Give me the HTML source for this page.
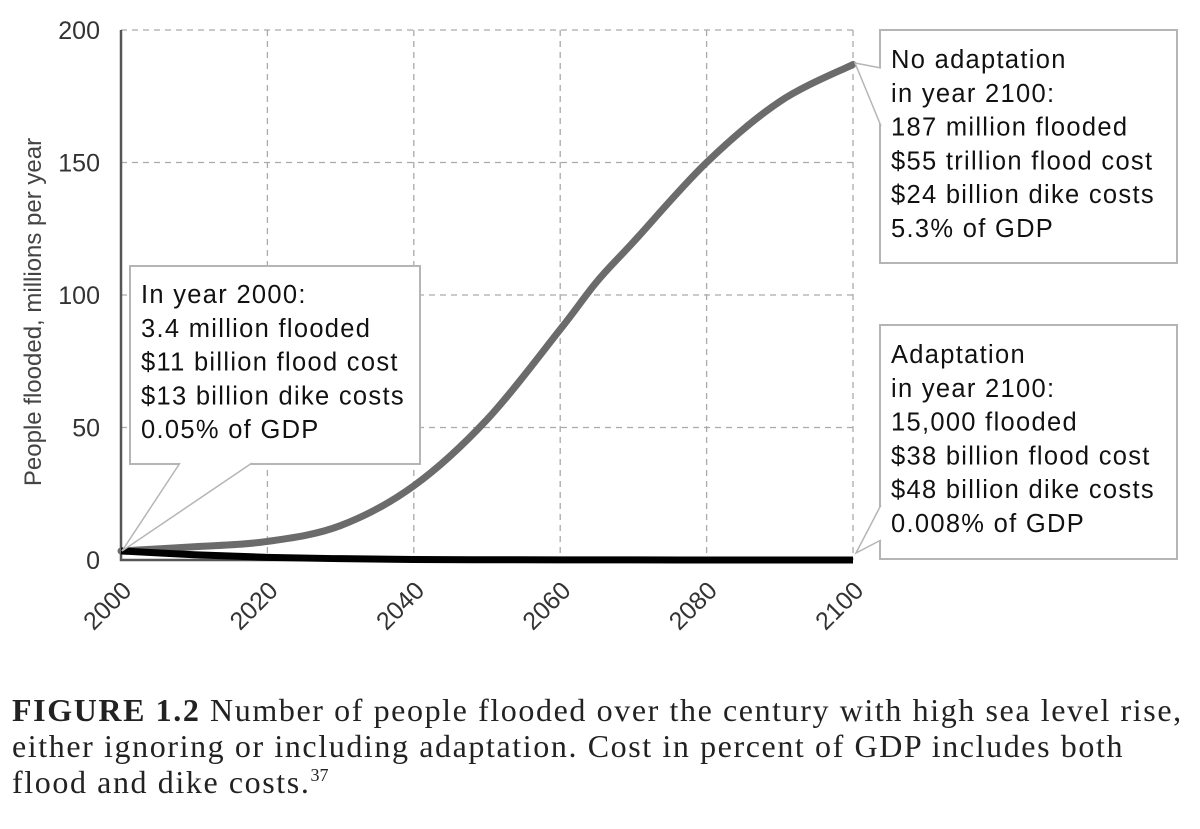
<!DOCTYPE html>
<html><head><meta charset="utf-8"><style>
body{margin:0;background:#fff;width:1200px;height:829px;overflow:hidden;font-family:"Liberation Sans",sans-serif}
.cap{position:absolute;left:12px;top:692px;width:1190px;font-family:"Liberation Serif",serif;font-size:32px;letter-spacing:1.6px;line-height:36px;color:#222;white-space:nowrap}
.cap sup{font-size:18px;line-height:0;vertical-align:0;position:relative;top:-12px;letter-spacing:0}
</style></head><body>
<svg id="chart" width="1200" height="680" style="position:absolute;left:0;top:0" font-family="Liberation Sans, sans-serif"></svg>
<div class="cap"><b>FIGURE 1.2</b> Number of people flooded over the century with high sea level rise,<br>either ignoring or including adaptation. Cost in percent of GDP includes both<br>flood and dike costs.<sup>37</sup></div>
<script>
const years=[2000,2010,2020,2030,2040,2050,2060,2065,2070,2080,2090,2100];
const noAdapt=[3.4,5,7,13,28,53,87,105,120,150,173,187];
const adapt=[3.4,2,1,0.5,0.2,0.1,0.05,0.04,0.03,0.02,0.015,0.015];
const xTicks=[2000,2020,2040,2060,2080,2100];
const yTicks=[0,50,100,150,200];
const NS="http://www.w3.org/2000/svg";
const svg=document.getElementById('chart');
const X0=121,X1=853,Y0=560,Y1=30;
const xs=v=>X0+(v-2000)/100*(X1-X0);
const ys=v=>Y0-v/200*(Y0-Y1);
function mk(t,a,p){const e=document.createElementNS(NS,t);for(const k in a)e.setAttribute(k,a[k]);(p||svg).appendChild(e);return e;}
yTicks.forEach(v=>{
 if(v>0){const g=mk('line',{x1:X0,x2:X1,y1:ys(v),y2:ys(v),stroke:'#aaa','stroke-dasharray':'6,5','stroke-width':1.3});
 
 }
 const t=mk('text',{x:100,y:ys(v)+9,'text-anchor':'end','font-size':25,fill:'#333'});t.textContent=v;
 
 
});
xTicks.forEach(v=>{
 if(v>2000){const g=mk('line',{x1:xs(v),x2:xs(v),y1:Y1,y2:Y0,stroke:'#aaa','stroke-dasharray':'6,5','stroke-width':1.3});
 
 }
 const t=mk('text',{x:0,y:0,'text-anchor':'end','font-size':25,fill:'#333',transform:`translate(${xs(v)+12},${Y0+32}) rotate(-45)`});t.textContent=v;
 
 
});
const ax=mk('path',{d:`M${X0},${Y1} V${Y0} H${X1}`,stroke:'#555','stroke-width':2.5,fill:'none'});


const yt=mk('text',{x:0,y:0,'text-anchor':'middle','font-size':24,fill:'#444',transform:'translate(41,312) rotate(-90)'});
yt.textContent='People flooded, millions per year';


function path(vals){const p=years.map((y,i)=>[xs(y),ys(vals[i])]);let d=`M${p[0][0]},${p[0][1]}`;
 for(let i=0;i<p.length-1;i++){const a=p[i-1]||p[i],b=p[i],c=p[i+1],e=p[i+2]||c;
 d+=` C${b[0]+(c[0]-a[0])/6},${b[1]+(c[1]-a[1])/6} ${c[0]-(e[0]-b[0])/6},${c[1]-(e[1]-b[1])/6} ${c[0]},${c[1]}`;}return d;}
const l1=mk('path',{d:path(noAdapt),stroke:'#6b6b6b','stroke-width':7,fill:'none','stroke-linecap':'round'});


const l2=mk('path',{d:path(adapt),stroke:'#000','stroke-width':7,fill:'none'});


function callout(name,x,y,w,h,tip,lines,ptr){
 const g=mk('g',{});
 mk('path',{d:`M${x},${y} H${x+w} V${y+h} H${x} Z`,fill:'#fff',stroke:'#b5b5b5','stroke-width':2},g);
 mk('path',{d:ptr,fill:'#fff',stroke:'#b5b5b5','stroke-width':1.5},g);
 lines.forEach((s,i)=>{const t=mk('text',{x:x+11,y:y+tip+i*33.8,'font-size':25.5,'letter-spacing':1.3,fill:'#111'},g);t.textContent=s;});
}
callout('callout-2000',130,266,290,198,37,['In year 2000:','3.4 million flooded','$11 billion flood cost','$13 billion dike costs','0.05% of GDP'],'M180,463 L122,551 L252,463');
callout('callout-no-adaptation',880,30,297,233,38,['No adaptation','in year 2100:','187 million flooded','$55 trillion flood cost','$24 billion dike costs','5.3% of GDP'],'M881,68 L855,63 L881,126');
callout('callout-adaptation',880,325,297,234,38,['Adaptation','in year 2100:','15,000 flooded','$38 billion flood cost','$48 billion dike costs','0.008% of GDP'],'M881,505 L856,553 L881,540');
</script>
</body></html>
